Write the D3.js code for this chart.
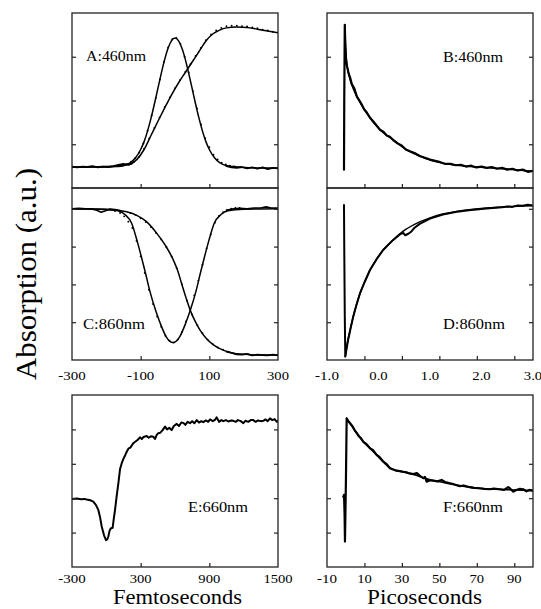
<!DOCTYPE html>
<html><head><meta charset="utf-8">
<script src="https://cdn.jsdelivr.net/npm/d3@7"></script>
<style>
body{margin:0;background:#fff}
</style>
</head><body>
<svg id="c" width="541" height="609"></svg>
<script>
// ---------- tick labels / ticks ----------
const panelLabels = ["A:460nm","B:460nm","C:860nm","D:860nm","E:660nm","F:660nm"];
const xLabelsFs = [-300,-100,100,300];
const xLabelsPs = [-1,0,1,2,3];
const xLabelsE  = [-300,300,900,1500];
const xLabelsF  = [-10,10,30,50,70,90];
const tickFs = [-100,100];
const tickE  = [300,900];
const tickRight = [10,30,50,70,90];
const yTicksTop = [1,2,3];
const yTicksMid = [1,2,3,4];
const yTicksBot = [1,2,3,4];
const yTitle = "Absorption (a.u.)";
const xTitleL = "Femtoseconds";
const xTitleR = "Picoseconds";
const FONT = "Liberation Serif";

// ---------- panel A (fs, a.u.) ----------
const aPulseFit = [[-300,0.48],[-240,0.48],[-200,0.48],[-170,0.49],[-150,0.51],[-130,0.58],[-115,0.69],[-100,0.88],[-90,1.06],[-80,1.30],[-70,1.59],[-60,1.92],[-50,2.27],[-40,2.62],[-30,2.94],[-20,3.20],[-10,3.37],[0,3.43],[10,3.37],[20,3.20],[30,2.94],[40,2.62],[50,2.27],[60,1.92],[70,1.59],[80,1.30],[90,1.06],[100,0.88],[115,0.69],[130,0.58],[150,0.51],[170,0.49],[200,0.47],[240,0.46],[300,0.46]];
const aPulseDots = [[-140,0.55],[-128,0.60],[-116,0.68],[-104,0.81],[-92,1.02],[-80,1.31],[-68,1.66],[-56,2.06],[-44,2.48],[-32,2.88],[-20,3.21],[-8,3.40],[4,3.43],[16,3.29],[28,3.00],[40,2.64],[52,2.22],[64,1.82],[76,1.45],[88,1.14],[100,0.93],[112,0.76],[124,0.65],[136,0.58],[148,0.54],[160,0.51],[172,0.49]];
const aRiseFit = [[-300,0.48],[-250,0.48],[-200,0.49],[-160,0.51],[-130,0.55],[-110,0.66],[-90,0.88],[-70,1.20],[-50,1.52],[-30,1.83],[-10,2.13],[10,2.40],[30,2.64],[50,2.88],[70,3.12],[90,3.36],[110,3.52],[130,3.61],[150,3.66],[180,3.68],[210,3.67],[240,3.63],[270,3.59],[300,3.55]];
const aRiseDots = [[-120,0.60],[-105,0.71],[-90,0.90],[-75,1.13],[-60,1.37],[-45,1.61],[-30,1.85],[-15,2.07],[0,2.28],[15,2.47],[30,2.65],[45,2.83],[60,3.02],[75,3.20],[90,3.38],[105,3.51],[120,3.60],[135,3.66],[150,3.70],[165,3.71],[180,3.71],[195,3.70],[210,3.69],[225,3.67],[240,3.65],[255,3.62],[270,3.60],[285,3.57]];
const aBaseLeft = [[-300,0.49],[-285,0.47],[-270,0.49],[-255,0.48],[-240,0.50],[-225,0.47],[-210,0.49],[-195,0.48],[-180,0.50],[-165,0.53],[-150,0.55],[-135,0.53],[-125,0.56]];
const aBaseRight = [[150,0.50],[165,0.47],[180,0.46],[195,0.48],[210,0.45],[225,0.47],[240,0.44],[255,0.47],[270,0.43],[285,0.46],[300,0.45]];

// ---------- panel C (fs, a.u.) ----------
const cDipFit = [[-300,4.00],[-220,3.99],[-166,3.95],[-146,3.85],[-126,3.61],[-111,3.17],[-98,2.73],[-86,2.30],[-74,1.85],[-56,1.30],[-43,0.97],[-26,0.62],[-6,0.46],[14,0.62],[31,0.97],[44,1.30],[62,1.85],[74,2.30],[86,2.73],[99,3.17],[114,3.61],[134,3.85],[154,3.95],[200,3.99],[300,4.00]];
const cDipDots = [[-190,3.98],[-175,3.94],[-160,3.89],[-148,3.80],[-136,3.66],[-124,3.49],[-112,3.15],[-100,2.74],[-88,2.30],[-76,1.86],[-64,1.48],[-52,1.15],[-40,0.88],[-28,0.64],[-16,0.51],[-4,0.46],[8,0.54],[20,0.74],[32,1.02],[44,1.35],[56,1.71],[68,2.10],[80,2.52],[92,2.95],[104,3.32],[116,3.63],[128,3.81],[140,3.91],[152,3.97],[164,4.00],[176,4.02],[188,4.02]];
const cFallFit = [[-300,4.00],[-200,3.99],[-141,3.92],[-110,3.82],[-83,3.66],[-53,3.35],[-28,3.03],[-5,2.65],[8,2.36],[19,2.03],[32,1.65],[46,1.28],[60,1.00],[73,0.79],[90,0.58],[112,0.40],[140,0.26],[170,0.18],[220,0.14],[260,0.13],[300,0.13]];
const cFallDots = [[-130,3.89],[-115,3.84],[-100,3.75],[-85,3.65],[-70,3.52],[-55,3.36],[-40,3.19],[-25,2.99],[-10,2.74],[5,2.43],[20,2.01],[35,1.57],[50,1.20],[65,0.92],[80,0.71],[95,0.54],[110,0.42],[125,0.33],[140,0.27],[155,0.22]];
const cBaseLeft = [[-300,4.00],[-280,4.01],[-260,4.00],[-240,3.99],[-228,3.96],[-215,3.91],[-202,3.95],[-190,3.99],[-175,3.98],[-160,3.95]];
const cBaseRight = [[150,3.96],[170,4.00],[190,4.01],[210,4.00],[230,4.02],[250,4.02],[265,4.05],[280,4.02],[300,4.02]];
const cBottom = [[150,0.22],[165,0.19],[180,0.15],[195,0.14],[210,0.16],[225,0.12],[240,0.14],[255,0.13],[270,0.12],[285,0.14],[300,0.12]];

// ---------- panel B (ps, a.u.) ----------
const bData = [[-0.67,0.42],[-0.665,2.0],[-0.655,3.73],[-0.645,3.30],[-0.63,2.95],[-0.61,2.78],[-0.58,2.62],[-0.55,2.52],[-0.52,2.38],[-0.47,2.28],[-0.42,2.09],[-0.37,2.00],[-0.33,1.92],[-0.28,1.80],[-0.23,1.73],[-0.16,1.60],[-0.10,1.52],[-0.03,1.42],[0.03,1.33],[0.10,1.28],[0.16,1.20],[0.22,1.17],[0.29,1.09],[0.37,1.02],[0.45,0.97],[0.53,0.88],[0.61,0.84],[0.70,0.80],[0.80,0.73],[0.90,0.69],[1.0,0.65],[1.1,0.62],[1.2,0.59],[1.3,0.55],[1.4,0.55],[1.5,0.52],[1.6,0.53],[1.7,0.49],[1.8,0.51],[1.9,0.47],[2.0,0.49],[2.1,0.46],[2.2,0.48],[2.3,0.44],[2.4,0.46],[2.5,0.42],[2.6,0.44],[2.7,0.40],[2.8,0.42],[2.9,0.37],[3.0,0.39]];
const bFit = [[-0.655,3.73],[-0.64,3.20],[-0.62,2.85],[-0.60,2.72],[-0.55,2.47],[-0.50,2.30],[-0.42,2.09],[-0.33,1.90],[-0.23,1.71],[-0.10,1.50],[0.03,1.33],[0.16,1.20],[0.29,1.10],[0.45,0.95],[0.61,0.83],[0.80,0.73],[1.0,0.64],[1.2,0.58],[1.45,0.53],[1.7,0.50],[1.91,0.48],[2.15,0.46],[2.42,0.44],[2.7,0.41],[3.0,0.38]];

// ---------- panel D (ps, a.u.) ----------
const dData = [[-0.67,4.10],[-0.665,3.0],[-0.655,1.2],[-0.645,0.09],[-0.62,0.30],[-0.59,0.53],[-0.54,0.85],[-0.49,1.15],[-0.43,1.45],[-0.36,1.76],[-0.26,2.09],[-0.165,2.38],[-0.04,2.66],[0.09,2.91],[0.28,3.17],[0.42,3.33],[0.48,3.36],[0.52,3.30],[0.58,3.34],[0.64,3.40],[0.70,3.50],[0.80,3.60],[1.0,3.74],[1.25,3.85],[1.52,3.92],[1.8,3.97],[2.1,4.01],[2.4,4.04],[2.5,4.06],[2.6,4.05],[2.7,4.09],[2.8,4.08],[2.9,4.11],[3.0,4.09]];
const dFit = [[-0.645,0.09],[-0.60,0.48],[-0.55,0.80],[-0.49,1.15],[-0.43,1.45],[-0.36,1.76],[-0.26,2.09],[-0.165,2.38],[-0.04,2.66],[0.09,2.91],[0.28,3.17],[0.48,3.41],[0.70,3.59],[1.0,3.76],[1.25,3.86],[1.52,3.93],[1.8,3.98],[2.1,4.02],[2.4,4.05],[2.7,4.07],[3.0,4.08]];

// ---------- panel E (fs, a.u.) ----------
const eData = [[-300,1.98],[-260,1.99],[-220,1.97],[-190,1.98],[-172,1.96],[-140,1.94],[-114,1.90],[-90,1.80],[-70,1.66],[-55,1.45],[-40,1.17],[-20,0.92],[-3,0.78],[8,0.80],[17,0.88],[28,1.05],[38,1.12],[55,1.14],[65,1.40],[76,1.66],[90,2.05],[105,2.43],[120,2.85],[134,3.01],[150,3.15],[165,3.25],[178,3.35],[195,3.45],[210,3.47],[236,3.60],[255,3.65],[275,3.70],[294,3.77],[310,3.72],[325,3.78],[353,3.81],[370,3.76],[390,3.80],[410,3.79],[425,3.72],[440,3.84],[454,3.89],[470,3.90],[490,3.97],[513,4.08],[530,4.00],[550,4.05],[571,3.98],[590,4.10],[615,4.16],[635,4.10],[655,4.20],[673,4.19],[690,4.13],[710,4.22],[731,4.18],[750,4.24],[770,4.18],[790,4.27],[810,4.20],[830,4.24],[847,4.21],[870,4.26],[890,4.22],[906,4.29],[930,4.24],[950,4.28],[964,4.35],[985,4.22],[1005,4.27],[1022,4.24],[1045,4.27],[1065,4.23],[1090,4.26],[1110,4.25],[1130,4.22],[1150,4.27],[1175,4.24],[1197,4.18],[1215,4.25],[1240,4.22],[1262,4.27],[1284,4.27],[1305,4.22],[1325,4.26],[1350,4.24],[1372,4.25],[1390,4.29],[1410,4.24],[1430,4.32],[1450,4.27],[1470,4.30],[1490,4.22],[1500,4.24]];

// ---------- panel F (ps, a.u.) ----------
const fData = [[-1.3,2.04],[-0.9,2.10],[-0.6,1.50],[-0.4,0.74],[0.1,2.50],[0.5,4.32],[1.2,4.25],[2.3,4.18],[3.5,4.10],[4.7,3.98],[5.9,3.89],[7,3.80],[8.2,3.74],[9.4,3.64],[11,3.58],[13,3.45],[14.5,3.40],[16.5,3.26],[18,3.20],[20.1,3.06],[22,2.98],[23.6,2.87],[25,2.84],[27.2,2.80],[29,2.79],[30.7,2.77],[32.5,2.75],[34,2.72],[36.1,2.70],[38,2.73],[39.5,2.66],[41.4,2.58],[42.3,2.62],[43.2,2.48],[45,2.52],[46.8,2.51],[49,2.49],[51.2,2.53],[53,2.47],[55.7,2.43],[58,2.40],[61,2.35],[63,2.37],[66.3,2.32],[68.5,2.30],[71.7,2.29],[74,2.27],[77,2.26],[79,2.28],[82.4,2.26],[84.5,2.24],[86.8,2.32],[88,2.27],[89.5,2.19],[91,2.24],[93,2.27],[94.8,2.26],[96.5,2.20],[98,2.24],[100,2.22]];
const fFit = [[0.5,4.32],[3,4.12],[6,3.89],[9.4,3.64],[13,3.45],[16.5,3.26],[20,3.06],[23.6,2.88],[27,2.80],[31,2.76],[36,2.70],[41,2.60],[46,2.52],[51,2.47],[56,2.42],[61,2.36],[66,2.32],[72,2.28],[80,2.26],[90,2.24],[100,2.22]];

// ---------- drawing ----------
const svg = d3.select("#c");
const L = [72,278], R = [327,533];
const row1 = [13,188], row2 = [188,360], row3 = [395,567];

const xFs = d3.scaleLinear([-300,300], L);
const xE  = d3.scaleLinear([-300,1500], L);
const xPs = d3.scaleLinear([-1,3], R);
const xF  = d3.scaleLinear([-10,100], R);
const yTop = d3.scaleLinear([0,4], [row1[1],row1[0]]);
const yMid = d3.scaleLinear([0,4.55], [row2[1],row2[0]]);
const yBot = d3.scaleLinear([0,5], [row3[1],row3[0]]);

let clipId = 0;
function panel(p){
  const g = svg.append("g");
  const id = "clip"+(clipId++);
  const [x0,x1] = p.xs.range(), [y1,y0] = p.ys.range();
  g.append("clipPath").attr("id",id).append("rect")
    .attr("x",x0).attr("y",y0).attr("width",x1-x0).attr("height",y1-y0);
  const plot = g.append("g").attr("clip-path",`url(#${id})`);
  (p.lines||[]).forEach(l=>{
    plot.append("path").datum(l.data)
      .attr("fill","none").attr("stroke","#000")
      .attr("stroke-width",l.w).attr("stroke-linejoin","round").attr("stroke-linecap","round")
      .attr("d", d3.line().x(d=>p.xs(d[0])).y(d=>p.ys(d[1])).curve(l.curve||d3.curveLinear));
  });
  (p.dots||[]).forEach(ds=>{
    plot.selectAll(null).data(ds).join("circle")
      .attr("cx",d=>p.xs(d[0])).attr("cy",d=>p.ys(d[1])).attr("r",0.95).attr("fill","#000");
  });
  const tk = a => a.tickFormat(()=>"").tickSizeOuter(0);
  const ax1 = g.append("g").attr("transform",`translate(0,${y1})`)
    .call(tk(d3.axisBottom(p.tickScale).tickValues(p.xTicks).tickSize(-4)));
  const ax2 = g.append("g").attr("transform",`translate(${x0},0)`)
    .call(tk(d3.axisLeft(p.ys).tickValues(p.yTicks).tickSize(-4)));
  const ax3 = g.append("g").attr("transform",`translate(${x1},0)`)
    .call(tk(d3.axisRight(p.ys).tickValues(p.yTicks).tickSize(-4)));
  [ax1,ax2,ax3].forEach(a=>{a.select(".domain").remove(); a.selectAll("text").remove(); a.selectAll("line").attr("stroke","#222").attr("stroke-width",1.2);});
  g.append("rect").attr("x",x0).attr("y",y0).attr("width",x1-x0).attr("height",y1-y0)
    .attr("fill","none").attr("stroke","#222").attr("stroke-width",1.3);
  g.append("text").attr("font-family",FONT).attr("x",p.lab[1]).attr("y",p.lab[2]).attr("font-size",14)
    .attr("textLength",p.lab[3]).attr("lengthAdjust","spacingAndGlyphs").text(p.lab[0]);
}

const fitC = d3.curveMonotoneX;
panel({xs:xFs, ys:yTop, tickScale:xFs, xTicks:tickFs, yTicks:yTicksTop,
  lines:[{data:aBaseLeft,w:1.8},{data:aBaseRight,w:1.8},{data:aPulseFit,w:1.5,curve:fitC},{data:aRiseFit,w:1.5,curve:fitC}],
  dots:[aPulseDots,aRiseDots], lab:[panelLabels[0],86,61,60]});
panel({xs:xPs, ys:yTop, tickScale:xF, xTicks:tickRight, yTicks:yTicksTop,
  lines:[{data:bData,w:2.2},{data:bFit,w:1.5,curve:fitC}], lab:[panelLabels[1],443,62,60]});
panel({xs:xFs, ys:yMid, tickScale:xFs, xTicks:tickFs, yTicks:yTicksMid,
  lines:[{data:cBaseLeft,w:1.6},{data:cBaseRight,w:1.6},{data:cBottom,w:1.8},{data:cDipFit,w:1.5,curve:fitC},{data:cFallFit,w:1.5,curve:fitC}],
  dots:[cDipDots,cFallDots], lab:[panelLabels[2],83,329,62]});
panel({xs:xPs, ys:yMid, tickScale:xF, xTicks:tickRight, yTicks:yTicksMid,
  lines:[{data:dData,w:2.0},{data:dFit,w:1.5,curve:fitC}], lab:[panelLabels[3],443,329,62]});
panel({xs:xE, ys:yBot, tickScale:xE, xTicks:tickE, yTicks:yTicksBot,
  lines:[{data:eData,w:2.0}], lab:[panelLabels[4],188,512,60]});
panel({xs:xF, ys:yBot, tickScale:xF, xTicks:tickRight, yTicks:yTicksBot,
  lines:[{data:fData,w:2.2},{data:fFit,w:1.6,curve:fitC}], lab:[panelLabels[5],443,512,60]});

// tick labels (slightly wide serif digits as in the scan)
function labels(scale, vals, y, fmt){
  svg.append("g").selectAll("text").data(vals).join("text")
    .attr("font-family",FONT)
    .attr("x",d=>scale(d)).attr("y",y).attr("text-anchor","middle").attr("font-size",13.5)
    .attr("lengthAdjust","spacingAndGlyphs")
    .attr("textLength",d=>{const s=fmt(d); let w=0; for(const ch of s){w+= ch==="-"?5.5:(ch==="."?3.8:7.3);} return w;})
    .text(fmt);
}
labels(xFs, xLabelsFs, 380, d=>String(d));
labels(xPs, xLabelsPs, 380, d=>d3.format(".1f")(d).replace("\u2212","-"));
labels(xE, xLabelsE, 582.5, d=>String(d));
labels(xF, xLabelsF, 582.5, d=>String(d));

// titles
svg.append("text").attr("font-family",FONT).attr("x",177.5).attr("y",604.3).attr("text-anchor","middle").attr("font-size",21)
  .attr("textLength",129).attr("lengthAdjust","spacingAndGlyphs").text(xTitleL);
svg.append("text").attr("font-family",FONT).attr("x",424.5).attr("y",604.3).attr("text-anchor","middle").attr("font-size",21)
  .attr("textLength",115).attr("lengthAdjust","spacingAndGlyphs").text(xTitleR);
svg.append("text").attr("font-family",FONT).attr("transform","translate(36,274) rotate(-90)").attr("text-anchor","middle")
  .attr("font-size",30).attr("textLength",212).attr("lengthAdjust","spacingAndGlyphs").text(yTitle);
</script>
</body></html>
